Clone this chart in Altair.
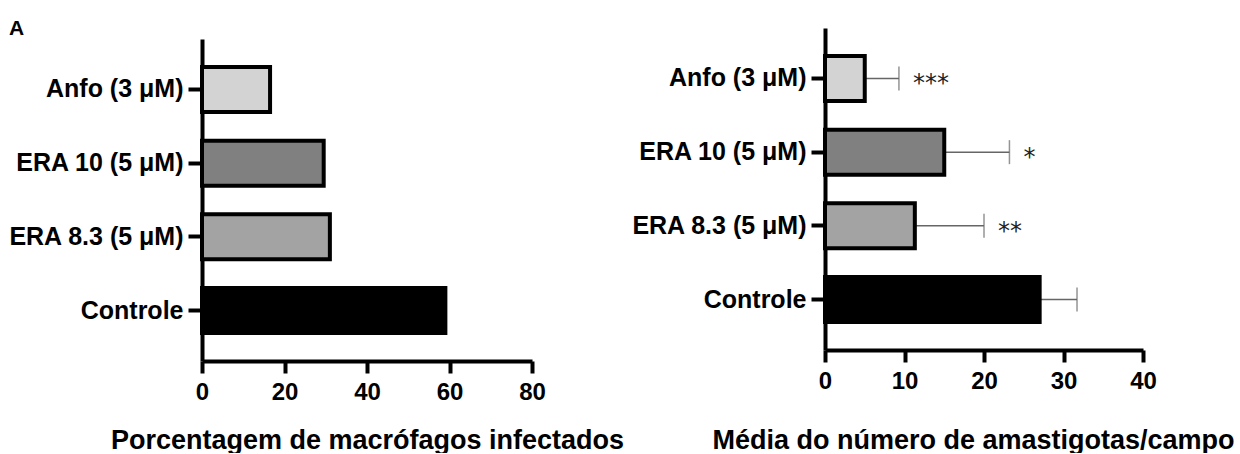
import altair as alt
import pandas as pd

# Treatment groups, top to bottom
groups = ["Anfo (3 μM)", "ERA 10 (5 μM)", "ERA 8.3 (5 μM)", "Controle"]
bar_fills = ["#d3d3d3", "#808080", "#a3a3a3", "#000000"]

# Panel 1: percentage of infected macrophages
pct_infected = [16.5, 29.5, 31.0, 59.0]

# Panel 2: mean number of amastigotes per field (+ SD) and significance marks
amast_mean = [5.0, 15.0, 11.3, 27.0]
amast_sd = [4.3, 8.2, 8.7, 4.7]
signif = ["***", "*", "**", ""]

panel_letter = ["A"]

df = pd.DataFrame({
    "grupo": groups,
    "pct": pct_infected,
    "media": amast_mean,
    "dp": amast_sd,
    "sig": signif,
})
letter_df = pd.DataFrame({"painel": panel_letter})

FONT = "Liberation Sans"

fill_scale = alt.Scale(domain=groups, range=bar_fills)


def y_axis():
    return alt.Axis(
        title=None,
        labelFont=FONT,
        labelFontSize=25,
        labelFontWeight="bold",
        labelColor="black",
        labelPadding=5,
        tickSize=14,
        tickWidth=4,
        tickColor="black",
        domainWidth=4,
        domainColor="black",
    )


def x_axis(title, ticks, title_x, title_y):
    return alt.Axis(
        title=title,
        values=ticks,
        grid=False,
        labelFont=FONT,
        labelFontSize=24,
        labelFontWeight="bold",
        labelColor="black",
        labelPadding=7,
        labelFlush=False,
        tickSize=12,
        tickWidth=4,
        tickColor="black",
        domainWidth=4,
        domainColor="black",
        titleFont=FONT,
        titleFontSize=27,
        titleFontWeight="bold",
        titleColor="black",
        titleAlign="center",
        titleBaseline="alphabetic",
        titleX=title_x,
        titleY=title_y,
    )


fill_enc = alt.Fill("grupo:N", scale=fill_scale, legend=None)

# ---- left panel (its plot sits a bit lower than the right one) ----
left_y = alt.Y(
    "grupo:N", sort=groups,
    scale=alt.Scale(paddingInner=0.39, paddingOuter=0.38, range=[11, 333]),
    axis=y_axis(),
)
left_x = alt.X(
    "pct:Q",
    scale=alt.Scale(domain=[0, 80], nice=False),
    axis=x_axis("Porcentagem de macrófagos infectados", [0, 20, 40, 60, 80], 165, 87),
)
left_bars = (
    alt.Chart(df)
    .mark_bar(stroke="black", strokeWidth=4)
    .encode(x=left_x, y=left_y, fill=fill_enc)
)
letter = (
    alt.Chart(letter_df)
    .mark_text(align="left", baseline="top", font=FONT, fontSize=21,
               fontWeight="bold", color="black")
    .encode(text="painel:N", x=alt.value(-193), y=alt.value(-10))
)
left = alt.layer(left_bars, letter).properties(width=330, height=333)

# ---- right panel ----
right_y = alt.Y(
    "grupo:N", sort=groups,
    scale=alt.Scale(paddingInner=0.39, paddingOuter=0.38),
    axis=y_axis(),
)
right_scale = alt.Scale(domain=[0, 40], nice=False)
right_axis = x_axis("Média do número de amastigotas/campo", [0, 10, 20, 30, 40], 148, 98)

base = alt.Chart(df).transform_calculate(sup="datum.media + datum.dp")

err_line = base.mark_rule(color="#666666", strokeWidth=1.5).encode(
    x=alt.X("media:Q", scale=right_scale, axis=right_axis),
    x2="sup:Q",
    y=right_y,
)
bars = base.mark_bar(stroke="black", strokeWidth=4).encode(
    x=alt.X("media:Q", scale=right_scale, axis=right_axis),
    y=right_y,
    fill=fill_enc,
)
err_cap = base.mark_tick(color="#666666", thickness=1.5, size=24).encode(
    x=alt.X("sup:Q", scale=right_scale),
    y=right_y,
)
stars = base.mark_text(
    align="left", baseline="middle", dx=14, dy=6,
    font="DejaVu Sans", fontSize=24, color="#222222",
).encode(
    x=alt.X("sup:Q", scale=right_scale),
    y=right_y,
    text="sig:N",
)

right = alt.layer(err_line, bars, err_cap, stars).properties(width=318, height=322)

chart = (
    alt.concat(left, right, columns=2, spacing=6, align="none")
    .properties(padding={"left": 7, "top": 18, "right": 0, "bottom": 0}, background="white")
    .configure_view(stroke=None)
)

chart.save("out.html", embed_options={"renderer": "svg", "actions": False})
